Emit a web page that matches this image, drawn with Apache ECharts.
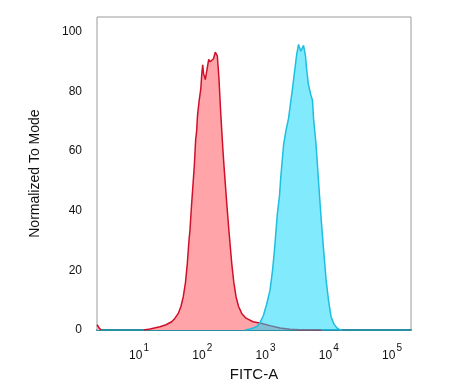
<!DOCTYPE html>
<html>
<head>
<meta charset="utf-8">
<script src="https://cdn.jsdelivr.net/npm/echarts@6/dist/echarts.min.js"></script>
<style>
html,body{margin:0;padding:0;background:#fff;}
#chart{width:474px;height:387px;}
</style>
</head>
<body>
<div id="chart"></div>
<script>
// x values are log10(FITC-A)
const xDecades = [1, 2, 3, 4, 5];
const yTicks = [0, 20, 40, 60, 80, 100];

// Isotype control (red) - clipped bump at the left edge
const redLeftX = [0.336, 0.368, 0.399];
const redLeftY = [1.8, 0.8, 0];

// Isotype control (red) - main peak
const redX = [1.079, 1.174, 1.332, 1.427, 1.517, 1.569, 1.621, 1.664, 1.700, 1.735, 1.764, 1.791, 1.806, 1.833, 1.874, 1.896, 1.912, 1.925, 1.953, 1.976, 1.993, 2.007, 2.021, 2.048, 2.072, 2.102, 2.126, 2.149, 2.178, 2.206, 2.221, 2.238, 2.252, 2.265, 2.289, 2.308, 2.325, 2.344, 2.387, 2.423, 2.466, 2.499, 2.534, 2.573, 2.624, 2.692, 2.802, 2.945, 3.071, 3.229, 3.387, 3.545, 3.700, 3.880];
const redY = [0, 0.4, 1.1, 1.8, 2.8, 4, 5.6, 8, 11.2, 16, 22.4, 30.3, 33.6, 42.6, 55, 64, 67, 72, 77.3, 80.7, 86, 89, 86, 84, 87, 90.8, 90, 89.6, 91, 93.2, 93.5, 92, 88, 84, 74, 67, 61, 55, 42.6, 33, 22.4, 16, 11.2, 8, 5.6, 4, 2.8, 2.2, 1.5, 0.7, 0.3, 0.15, 0.1, 0];

// Stained sample (blue)
const blueX = [2.676, 2.755, 2.818, 2.861, 2.913, 2.965, 3.016, 3.071, 3.111, 3.142, 3.187, 3.221, 3.240, 3.285, 3.324, 3.364, 3.395, 3.427, 3.455, 3.493, 3.522, 3.538, 3.558, 3.577, 3.601, 3.617, 3.632, 3.648, 3.677, 3.715, 3.743, 3.759, 3.798, 3.838, 3.877, 3.914, 3.957, 3.996, 4.036, 4.083, 4.130, 4.178, 4.209];
const blueY = [0, 0.4, 0.8, 1.2, 2.5, 4.8, 8.5, 13.4, 20, 27, 39, 45, 51, 62, 67, 71, 76, 81, 86, 92.5, 95.8, 95.5, 93.5, 94, 95.5, 95, 92, 88, 82.5, 79, 77, 71, 62.5, 50, 38, 28, 17, 10, 4.5, 2, 0.7, 0.1, 0];

const pair = (xs, ys) => xs.map((x, i) => [x, ys[i]]);

const chart = echarts.init(document.getElementById('chart'), null, {renderer: 'canvas'});
const font = 'Liberation Sans';
const redStyle = {
  type: 'line', showSymbol: false, symbol: 'none', smooth: false,
  lineStyle: {color: '#d0102a', width: 1.5},
  areaStyle: {color: '#ffa4a8', opacity: 1},
  z: 2
};
chart.setOption({
  animation: false,
  backgroundColor: '#ffffff',
  grid: {left: 97, right: 63, top: 17, bottom: 56, show: true, borderColor: '#9a9a9a', borderWidth: 1, containLabel: false},
  xAxis: {
    type: 'value', min: 0.336, max: 5.3,
    name: 'FITC-A', nameLocation: 'middle', nameGap: 35,
    nameTextStyle: {fontFamily: font, fontSize: 15, color: '#111'},
    axisLine: {show: true, lineStyle: {color: '#2a8fa3', width: 2}},
    axisTick: {show: false},
    splitLine: {show: false},
    axisLabel: {
      customValues: xDecades,
      margin: 12,
      formatter: v => '{b|10}{s|' + v + '}',
      rich: {
        b: {fontFamily: font, fontSize: 12, color: '#111', lineHeight: 20, verticalAlign: 'bottom'},
        s: {fontFamily: font, fontSize: 10, color: '#111', lineHeight: 20, verticalAlign: 'top', padding: [1, 0, 0, 1]}
      }
    }
  },
  yAxis: {
    type: 'value', min: 0, max: 105, interval: 20,
    name: 'Normalized To Mode', nameLocation: 'middle', nameGap: 55,
    nameTextStyle: {fontFamily: font, fontSize: 14, color: '#111'},
    axisLine: {show: false},
    axisTick: {show: false},
    splitLine: {show: false},
    axisLabel: {
      margin: 15,
      fontFamily: font, fontSize: 12, color: '#111',
      formatter: v => (yTicks.indexOf(v) >= 0 ? String(v) : '')
    }
  },
  series: [
    Object.assign({data: pair(redLeftX, redLeftY)}, redStyle),
    Object.assign({data: pair(redX, redY)}, redStyle),
    {
      type: 'line', showSymbol: false, symbol: 'none', smooth: false,
      data: pair(blueX, blueY),
      lineStyle: {color: '#1fbde0', width: 1.5},
      areaStyle: {color: '#10d6fb', opacity: 0.52},
      z: 3
    }
  ]
});
</script>
</body>
</html>
